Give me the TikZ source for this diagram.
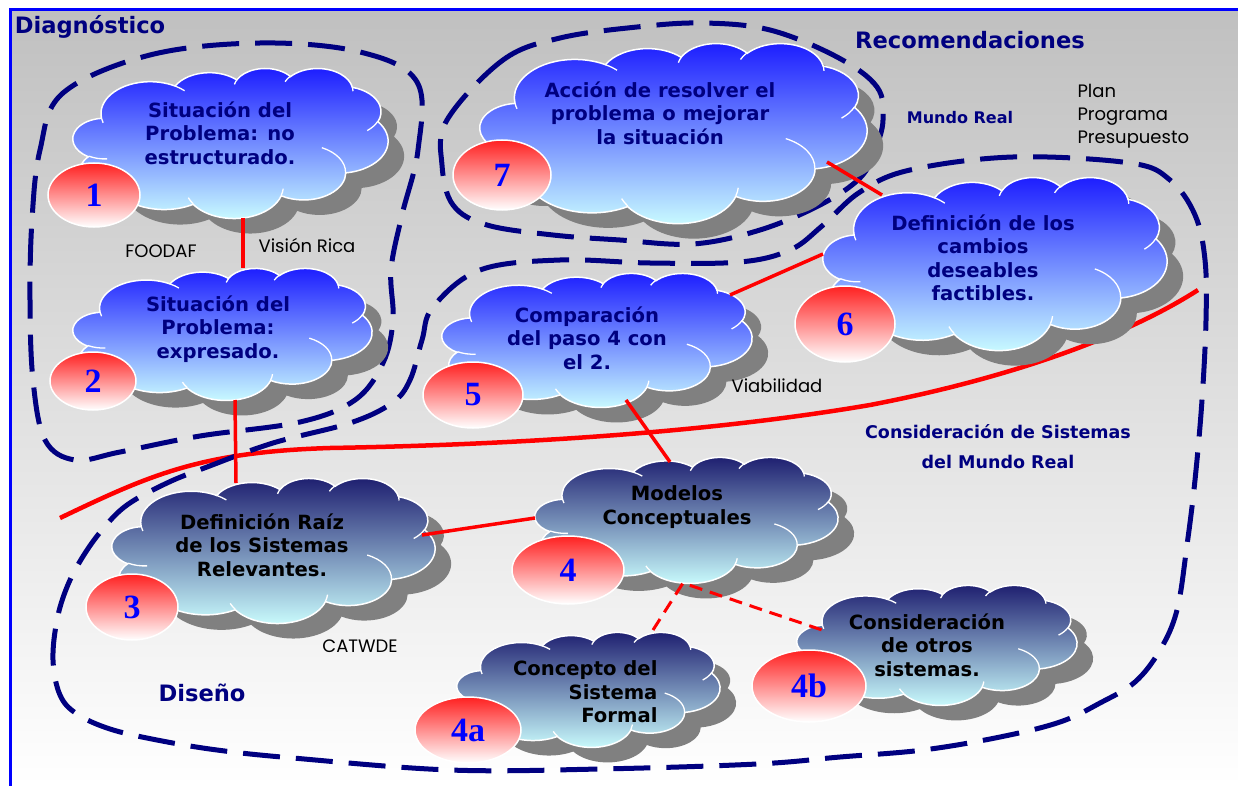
\documentclass[tikz,border=0pt]{standalone}
\usepackage{fontspec}
\setmainfont{DejaVu Sans}
\newfontfamily\numfont{Liberation Serif}
\newfontfamily\gothic{Poppins}
\usetikzlibrary{shapes.geometric}

\definecolor{navyink}{HTML}{000080}
\definecolor{skytop}{HTML}{1A1AFF}
\definecolor{paleaqua}{HTML}{CCFFFF}
\definecolor{deeptop}{HTML}{1C1C6E}
\definecolor{shadowgray}{HTML}{808080}
\definecolor{badgered}{HTML}{FF2020}
\definecolor{numblue}{HTML}{0000FF}
\definecolor{bgtop}{HTML}{C0C0C0}
\definecolor{linkred}{HTML}{FF0000}
\definecolor{frameblue}{HTML}{0000FF}

\tikzset{
  % elliptical arc given by its radii and the visual start angle and sweep
  carc/.style n args={4}{insert path={arc[x radius=#1, y radius=#2,
    start angle={(#3)+mod(atan2((#1)*sin(#3),(#2)*cos(#3))-(#3)+900,360)-180},
    end angle={(#3+#4)+mod(atan2((#1)*sin(#3+#4),(#2)*cos(#3+#4))-(#3+#4)+900,360)-180}]}},
  % cloud outline in a 432 x 432 box
  puffoutline/.style={insert path={(39,143.7)
    [carc={67.53}{91.90}{-190.4875}{123.7805}]
    [carc={53.33}{72.67}{-144.1024}{89.9452}]
    [carc={43.65}{59.45}{-145.8079}{99.7230}]
    [carc={48.57}{65.95}{-130.9861}{117.2417}]
    [carc={53.33}{72.73}{-78.7089}{109.0269}]
    [carc={67.75}{92.20}{-46.2673}{130.2690}]
    [carc={57.85}{78.67}{0.6250}{114.0333}]
    [carc={67.52}{92.15}{22.4516}{115.1726}]
    [carc={77.20}{105.43}{66.2426}{75.7110}]
    [carc={43.60}{59.18}{-274.9421}{146.7356}]
    [carc={43.45}{59.45}{-246.8285}{152.5189}] -- cycle}},
  % the short creases where the puffs overlap
  puffcreases/.style={insert path={
    (46.93,261.77) [carc={43.45}{59.45}{86.7420}{26.4295}]
    (69.28,348.99) [carc={43.60}{59.18}{73.6105}{11.4475}]
    (164.78,390.90) [carc={67.52}{92.15}{137.6242}{14.0811}]
    (288.27,347.51) [carc={67.52}{92.15}{6.4533}{15.9984}]
    (341.29,229.54) [carc={57.85}{78.67}{-70.2924}{70.9174}]
    (417.98,153.54) [carc={53.33}{72.73}{30.3180}{27.7515}]
    (383.24,54.26) [carc={48.57}{65.95}{-13.7443}{14.8589}]
    (290.78,39.52) [carc={48.57}{65.95}{-149.1815}{18.1954}]
    (221.41,47.20) [carc={43.65}{59.45}{-163.4943}{17.6864}]
    (140.00,51.92) [carc={67.53}{91.90}{-66.7070}{12.3194}]
    (41.27,157.89) [carc={67.53}{91.90}{157.6544}{11.8582}]}},
  cloudhi/.style={top color=skytop, bottom color=paleaqua},
  cloudlo/.style={top color=deeptop, bottom color=paleaqua},
  badge/.style={ellipse, draw=white, line width=1.5pt, top color=badgered, bottom color=white,
    inner sep=0pt, text=numblue, font=\numfont\bfseries\fontsize{34}{34}\selectfont},
  hitext/.style={align=center, text=navyink, font=\bfseries\fontsize{19.6}{23.5}\selectfont},
  lotext/.style={align=center, text=black, font=\bfseries\fontsize{19.6}{23.5}\selectfont},
  heading/.style={text=navyink, font=\bfseries\fontsize{22.6}{28}\selectfont},
  subheading/.style={text=navyink, align=center, font=\bfseries\fontsize{17.5}{30}\selectfont},
  note/.style={text=black, font=\gothic\fontsize{18}{23.3}\selectfont},
  region/.style={navyink, line width=5pt, dash pattern=on 37pt off 16pt},
  link/.style={linkred, line width=3.5pt},
  weaklink/.style={linkred, line width=3pt, dash pattern=on 13pt off 8pt},
  divider/.style={linkred, line width=4.5pt}
}

% a cloud with its drop shadow: name, left, top, width, height, fill style
\newcommand\stepcloud[6]{%
  \begin{scope}[shift={(#2+16,#3+15)}, xscale=#4/432, yscale=#5/432]
    \fill[shadowgray] [puffoutline];
  \end{scope}
  \begin{scope}[shift={(#2,#3)}, xscale=#4/432, yscale=#5/432]
    \path[#6, draw=white, line width=1.5pt] [puffoutline];
    \draw[white, line width=1.3pt] [puffcreases];
    \coordinate (#1) at (216,216);
  \end{scope}
}
% a numbered badge: name, x, y, half width, half height, label
\newcommand\stepbadge[6]{%
  \node[badge, minimum width=2*#4pt, minimum height=2*#5pt] (#1) at (#2,#3) {#6};
}

\begin{document}
\begin{tikzpicture}[x=1pt,y=-1pt]
\useasboundingbox (0,0) rectangle (1238,786);
\fill[white] (0,0) rectangle (1238,786);
\fill[top color=bgtop, bottom color=white] (10,10) rectangle (1238,786);
\draw[frameblue, line width=3pt] (10,786) -- (10,10) -- (1238,10);

% boundary between the real world and systems thinking
\coordinate (div-w) at (60,518);
\coordinate (div-e) at (1198,290);
\draw[divider] (div-w) .. controls (150,475) and (200,452) .. (330,448)
  .. controls (500,445) and (700,434) .. (870,405)
  .. controls (1000,380) and (1120,340) .. (div-e);

% dashed regions
\draw[region] plot[smooth cycle, tension=0.6] coordinates {(63,93) (150,55) (260,43) (360,52) (417,82)
  (418,150) (402,215) (391,270) (393,320) (383,363) (355,400) (300,422) (200,436) (120,452) (75,460)
  (45,440) (33,380) (30,300) (32,220) (40,150)};
\draw[region] plot[smooth cycle, tension=0.6] coordinates {(447,120) (503,60) (560,38) (637,27) (703,23)
  (770,30) (837,57) (877,87) (883,120) (875,150) (860,178) (820,205) (760,230) (693,244) (620,240)
  (553,235) (487,225) (453,205) (442,165)};
\draw[region] plot[smooth cycle, tension=0.6] coordinates {(433,307) (480,270) (560,260) (650,263)
  (740,262) (790,250) (822,226) (860,192) (910,170) (1013,157) (1130,163) (1170,180) (1195,215)
  (1205,260) (1206,320) (1202,400) (1195,480) (1187,545) (1177,610) (1160,650) (1135,682) (1100,703)
  (1060,722) (1000,737) (923,750) (840,757) (757,764) (600,769) (450,770) (293,758) (217,750)
  (157,740) (110,729) (77,714) (60,695) (53,660) (57,620) (67,587) (82,558) (102,530) (127,505)
  (167,483) (207,467) (273,443) (350,423) (392,403) (410,380) (422,340)};

% process clouds
\stepcloud{c1}{73}{68}{315}{150}{cloudhi}
\stepcloud{c2}{73}{268}{299}{132}{cloudhi}
\stepcloud{c7}{480}{43}{387}{180}{cloudhi}
\stepcloud{c6}{823}{177}{344}{173}{cloudhi}
\stepcloud{c5}{442}{273}{310}{134}{cloudhi}
\stepcloud{c4}{535}{457}{303}{126}{cloudlo}
\stepcloud{c3}{112}{478}{323}{145}{cloudlo}
\stepcloud{c4a}{457}{632}{263}{115}{cloudlo}
\stepcloud{c4b}{797}{585}{280}{120}{cloudlo}

\node[hitext] (t1) at (220,133) {Situación del\\Problema: no\\estructurado.};
\node[hitext] (t2) at (218,329) {Situación del\\Problema:\\expresado.};
\node[hitext] (t7) at (660,113) {Acción de resolver el\\problema o mejorar\\la situación};
\node[hitext] (t6) at (983,258) {Definición de los\\cambios\\deseables\\factibles.};
\node[hitext] (t5) at (587,338) {Comparación\\del paso 4 con\\el 2.};
\node[lotext] (t4) at (677,507) {Modelos\\Conceptuales};
\node[lotext] (t3) at (262,545) {Definición Raíz\\de los Sistemas\\Relevantes.};
\node[lotext, align=right, anchor=east] (t4a) at (661,692) {Concepto del\\Sistema\\Formal};
\node[lotext] (t4b) at (927,645) {Consideración\\de otros\\sistemas.};

% step numbers
\stepbadge{n1}{94}{195}{46}{32}{1}
\stepbadge{n2}{93}{381}{43}{29}{2}
\stepbadge{n7}{502}{175}{49}{35}{7}
\stepbadge{n6}{845}{324}{50}{38}{6}
\stepbadge{n5}{473}{395}{50}{33}{5}
\stepbadge{n4}{568}{570}{56}{34}{4}
\stepbadge{n3}{132}{607}{46}{33}{3}
\stepbadge{n4a}{468}{730}{53}{33}{4a}
\stepbadge{n4b}{809}{686}{57}{36}{4b}

% connector end points on the cloud outlines
\coordinate (c1-out) at (243,218);
\coordinate (c2-in) at (243,268);
\coordinate (c2-out) at (235,400);
\coordinate (c3-in) at (236,483);
\coordinate (c3-out) at (422,535);
\coordinate (c4-in) at (535,518);
\coordinate (c5-out) at (626,400);
\coordinate (c4-top) at (670,462);
\coordinate (c5-right) at (730,295);
\coordinate (c6-left) at (823,254);
\coordinate (c7-out) at (827,162);
\coordinate (c6-top) at (882,195);
\coordinate (c4-fork) at (683,583);
\coordinate (c4a-in) at (653,630);
\coordinate (c4b-in) at (822,630);

\draw[link] (c1-out) -- (c2-in);
\draw[link] (c2-out) -- (c3-in);
\draw[link] (c3-out) -- (c4-in);
\draw[link] (c5-out) -- (c4-top);
\draw[link] (c5-right) -- (c6-left);
\draw[link] (c7-out) -- (c6-top);
\draw[weaklink] (c4a-in) -- (c4-fork) -- (c4b-in);

% labels
\node[heading] (diag) at (90,27) {Diagnóstico};
\node[heading] (reco) at (970,40) {Recomendaciones};
\node[text=navyink, font=\bfseries\fontsize{16}{20}\selectfont] (mundo) at (960,118) {Mundo Real};
\node[note, align=left, anchor=west] (plan) at (1074,116) {Plan\\Programa\\Presupuesto};
\node[note] (foodaf) at (161,251) {FOODAF};
\node[note] (vision) at (307,245) {Visión Rica};
\node[note] (viab) at (777,386) {Viabilidad};
\node[note] (catwde) at (360,646) {CATWDE};
\node[subheading] (sysw) at (998,447) {Consideración de Sistemas\\del Mundo Real};
\node[heading] (diseno) at (202,693) {Diseño};
\end{tikzpicture}
\end{document}
